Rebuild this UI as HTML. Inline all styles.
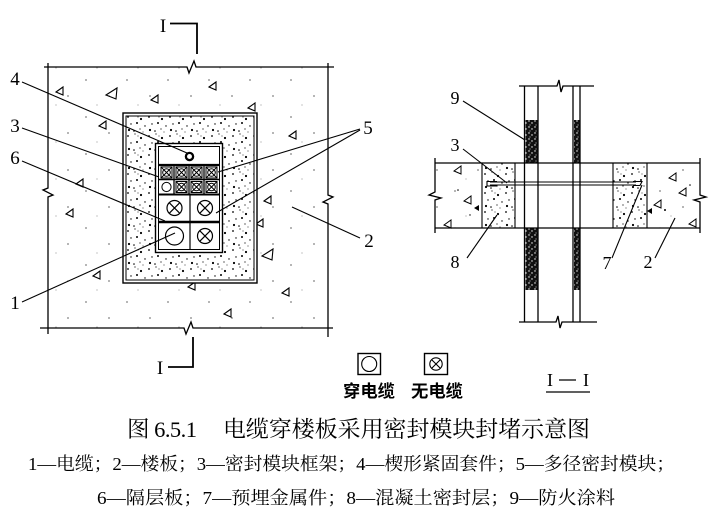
<!DOCTYPE html>
<html><head><meta charset="utf-8">
<style>html,body{margin:0;padding:0;background:#fff}svg{display:block}</style>
</head>
<body>
<svg width="717" height="521" viewBox="0 0 717 521" xmlns="http://www.w3.org/2000/svg">
<defs>
<pattern id="sp" width="41" height="37" patternUnits="userSpaceOnUse">
<circle cx="4" cy="6" r="0.6"/><circle cx="27" cy="22" r="0.6"/><circle cx="15" cy="31" r="0.4"/>
</pattern>
<pattern id="dn" width="21" height="19" patternUnits="userSpaceOnUse">
<circle cx="2" cy="3" r="0.9"/><circle cx="9" cy="1" r="0.6"/><circle cx="15" cy="5" r="1.1"/><circle cx="19" cy="12" r="0.7"/><circle cx="5" cy="10" r="0.7"/><circle cx="11" cy="9" r="1.0"/><circle cx="3" cy="16" r="1.1"/><circle cx="14" cy="15" r="0.6"/><circle cx="8" cy="17" r="0.8"/><circle cx="17" cy="18" r="0.5"/><circle cx="12" cy="3" r="0.5"/>
</pattern>
<pattern id="ct" width="6" height="6" patternUnits="userSpaceOnUse">
<rect width="6" height="6" fill="#111"/><circle cx="1" cy="1" r="0.7" fill="#fff"/><circle cx="4" cy="3" r="0.7" fill="#fff"/><circle cx="2" cy="5" r="0.5" fill="#fff"/>
</pattern>
</defs>
<rect width="717" height="521" fill="#fff"/>

<!-- LEFT PLAN VIEW -->
<rect x="48" y="67" width="280" height="261" fill="url(#sp)"/>
<g fill="none" stroke="#000" stroke-width="1.3">
<polyline points="44,67 187,67 189,73 194,61 196,67 334,67"/>
<polyline points="40,328 184,328 186,334 191,322 193,328 333,328"/>
<polyline points="48,63 48,188 43,190 53,195 48,197 48,334"/>
<polyline points="328,63 328,195 333,197 323,202 328,204 328,337"/>
<polyline points="170,23.5 197,23.5 197,54" stroke-width="1.8"/>
<polyline points="168,367 193,367 193,337" stroke-width="1.8"/>
</g>
<g fill="none" stroke="#000" stroke-width="1.1">
<polygon points="56,92 63,87 63,95"/>
<polygon points="106,95 117,88 116,99"/>
<polygon points="151,100 158,95 158,103"/>
<polygon points="209,87 216,82 216,90"/>
<polygon points="248,108 255,103 255,111"/>
<polygon points="99,126 106,121 106,129"/>
<polygon points="289,136 296,131 296,139"/>
<polygon points="76,184 83,179 83,187"/>
<polygon points="264,201 271,196 271,204"/>
<polygon points="66,214 73,209 73,217"/>
<polygon points="256,224 263,219 263,227"/>
<polygon points="262,256 273,249 272,260"/>
<polygon points="93,276 100,271 100,279"/>
<polygon points="188,287 195,282 195,290"/>
<polygon points="282,293 289,288 289,296"/>
<polygon points="224,314 231,309 231,317"/>
</g>
<rect x="123" y="113" width="134" height="170" fill="#fff" stroke="#000" stroke-width="1.4"/>
<rect x="126" y="116" width="128" height="164" fill="url(#dn)" stroke="#000" stroke-width="1"/>
<rect x="155.5" y="143.5" width="67" height="109" fill="#fff" stroke="#000" stroke-width="1.4"/>
<rect x="158.5" y="146.5" width="61" height="103" fill="none" stroke="#000" stroke-width="1"/>
<circle cx="189.5" cy="156.5" r="3.6" fill="#fff" stroke="#000" stroke-width="2.3"/>
<g stroke="#000" fill="none">
<line x1="158.5" y1="165" x2="219.5" y2="165" stroke-width="2.2"/>
<line x1="158.5" y1="179.5" x2="219.5" y2="179.5" stroke-width="1.6"/>
<line x1="158.5" y1="194.5" x2="219.5" y2="194.5" stroke-width="2"/>
<line x1="174" y1="165" x2="174" y2="194.5" stroke-width="1.3"/>
<line x1="189" y1="165" x2="189" y2="194.5" stroke-width="1.3"/>
<line x1="204" y1="165" x2="204" y2="194.5" stroke-width="1.3"/>
<line x1="190" y1="194.5" x2="190" y2="249.5" stroke-width="1.2"/>
<line x1="158.5" y1="222" x2="219.5" y2="222" stroke-width="2.6"/>
</g>
<g stroke="#000" fill="none" stroke-width="1">
<rect x="161" y="167" width="11" height="11"/><path d="M161,167L172,178M172,167L161,178"/><circle cx="166.5" cy="172.5" r="3.8"/>
<rect x="176" y="167" width="11" height="11"/><path d="M176,167L187,178M187,167L176,178"/><circle cx="181.5" cy="172.5" r="3.8"/>
<rect x="191" y="167" width="11" height="11"/><path d="M191,167L202,178M202,167L191,178"/><circle cx="196.5" cy="172.5" r="3.8"/>
<rect x="206" y="167" width="11" height="11"/><path d="M206,167L217,178M217,167L206,178"/><circle cx="211.5" cy="172.5" r="3.8"/>
<circle cx="166.5" cy="187" r="4.6"/>
<rect x="176" y="181.5" width="11" height="11"/><path d="M176,181.5L187,192.5M187,181.5L176,192.5"/><circle cx="181.5" cy="187" r="3.8"/>
<rect x="191" y="181.5" width="11" height="11"/><path d="M191,181.5L202,192.5M202,181.5L191,192.5"/><circle cx="196.5" cy="187" r="3.8"/>
<rect x="206" y="181.5" width="11" height="11"/><path d="M206,181.5L217,192.5M217,181.5L206,192.5"/><circle cx="211.5" cy="187" r="3.8"/>
<circle cx="174.5" cy="208" r="7.5" stroke-width="1.2"/><path d="M169.2,202.7L179.8,213.3M179.8,202.7L169.2,213.3" stroke-width="1.2"/>
<circle cx="205" cy="208" r="7.5" stroke-width="1.2"/><path d="M199.7,202.7L210.3,213.3M210.3,202.7L199.7,213.3" stroke-width="1.2"/>
<circle cx="174.5" cy="236" r="9" stroke-width="1.2"/>
<circle cx="205" cy="236" r="7.5" stroke-width="1.2"/><path d="M199.7,230.7L210.3,241.3M210.3,230.7L199.7,241.3" stroke-width="1.2"/>
</g>
<g stroke="#000" stroke-width="1.1">
<line x1="22" y1="82" x2="187" y2="153"/>
<line x1="22" y1="128" x2="159" y2="177"/>
<line x1="22" y1="161" x2="165" y2="221"/>
<line x1="22" y1="302" x2="175" y2="233"/>
<line x1="360" y1="129" x2="218" y2="172"/>
<line x1="360" y1="130" x2="216" y2="213"/>
<line x1="360" y1="238" x2="292" y2="207"/>
</g>
<g font-family="Liberation Serif, serif" font-size="19" text-anchor="middle" fill="#000">
<text x="15" y="85">4</text>
<text x="15" y="132">3</text>
<text x="15" y="164">6</text>
<text x="15" y="309">1</text>
<text x="368" y="134">5</text>
<text x="369" y="247">2</text>
<text x="163" y="32">I</text>
<text x="160" y="374">I</text>
</g>

<!-- RIGHT SECTION VIEW -->
<rect x="435" y="163" width="47" height="65" fill="url(#sp)"/>
<rect x="647" y="163" width="53" height="65" fill="url(#sp)"/>
<rect x="482" y="163" width="33" height="65" fill="url(#dn)"/>
<rect x="613" y="163" width="34" height="65" fill="url(#dn)"/>
<rect x="525.5" y="120" width="12" height="43" fill="url(#ct)"/>
<rect x="525.5" y="228" width="12" height="62" fill="url(#ct)"/>
<rect x="574" y="120" width="5.5" height="43" fill="url(#ct)"/>
<rect x="574" y="228" width="5.5" height="62" fill="url(#ct)"/>
<g stroke="#000" fill="none" stroke-width="1.3">
<line x1="435" y1="163" x2="700" y2="163"/>
<line x1="435" y1="228" x2="700" y2="228"/>
<line x1="482" y1="163" x2="482" y2="228" stroke-width="1.1"/>
<line x1="515" y1="163" x2="515" y2="228" stroke-width="1.1"/>
<line x1="613" y1="163" x2="613" y2="228" stroke-width="1.1"/>
<line x1="647" y1="163" x2="647" y2="228" stroke-width="1.1"/>
<line x1="524.5" y1="86" x2="524.5" y2="322"/>
<line x1="538" y1="86" x2="538" y2="322"/>
<line x1="573" y1="86" x2="573" y2="322"/>
<line x1="580" y1="86" x2="580" y2="322"/>
<polyline points="519,86 557,86 559,80 561,92 563,86 594,86"/>
<polyline points="519,322 556,322 558,316 560,328 562,322 597,322"/>
<polyline points="435,158 435,192 429,195 441,198 435,200 435,233"/>
<polyline points="700,158 700,195 706,197 694,200 700,202 700,233"/>
<line x1="490" y1="182" x2="636" y2="182" stroke-width="1"/>
<line x1="490" y1="185" x2="636" y2="185" stroke-width="1"/>
<path d="M497,181.5 L487,181.5 L487,186 L497,186" stroke-width="1.1"/>
<path d="M633,181.5 L642,181.5 L640,185.5 L633,185.5" stroke-width="1.1"/>
</g>
<g fill="none" stroke="#000" stroke-width="1">
<polygon points="454,171 461,166 461,174"/>
<polygon points="464,201 471,196 471,204"/>
<polygon points="444,225 451,220 451,228"/>
<polygon points="669,178 676,173 676,181"/>
<polygon points="679,193 686,188 686,196"/>
<polygon points="654,205 661,200 661,208"/>
<polygon points="689,224 696,219 696,227"/>
</g>
<g fill="#000">
<polygon points="474,208 479,205 479,211"/>
<polygon points="647,211 652,208 652,214"/>
<circle cx="665" cy="210" r="1"/><circle cx="690" cy="185" r="0.8"/><circle cx="458" cy="190" r="0.8"/><circle cx="470" cy="215" r="0.7"/>
</g>
<g stroke="#000" stroke-width="1.1">
<line x1="463" y1="101" x2="525" y2="140"/>
<line x1="463" y1="149" x2="507" y2="183"/>
<line x1="467" y1="258" x2="497" y2="215"/>
<line x1="612" y1="258" x2="642" y2="185"/>
<line x1="655" y1="258" x2="675" y2="218"/>
</g>
<g font-family="Liberation Serif, serif" font-size="18" text-anchor="middle" fill="#000">
<text x="455" y="104">9</text>
<text x="455" y="151">3</text>
<text x="455" y="268">8</text>
<text x="607" y="269">7</text>
<text x="648" y="268">2</text>
</g>

<!-- LEGEND -->
<rect x="358" y="353.5" width="22.5" height="21" fill="none" stroke="#000" stroke-width="1.4"/>
<circle cx="369.2" cy="364" r="7.5" fill="none" stroke="#000" stroke-width="1.1"/>
<rect x="424.5" y="353.5" width="23" height="21" fill="none" stroke="#000" stroke-width="1.4"/>
<circle cx="436" cy="364" r="6.2" fill="none" stroke="#000" stroke-width="1.1"/>
<path d="M431.6,359.6L440.4,368.4M440.4,359.6L431.6,368.4" stroke="#000" stroke-width="1.1"/>
<g font-family="Liberation Sans, Noto Sans CJK SC, sans-serif" font-size="17" font-weight="bold" fill="#000">
<text x="343" y="397" textLength="52" lengthAdjust="spacingAndGlyphs">穿电缆</text>
<text x="411" y="397" textLength="52" lengthAdjust="spacingAndGlyphs">无电缆</text>
</g>
<g font-family="Liberation Serif, serif" font-size="18" fill="#000">
<text x="547" y="386">I</text>
<text x="583" y="386">I</text>
</g>
<line x1="559" y1="380" x2="576" y2="380" stroke="#000" stroke-width="1.2"/>
<line x1="546" y1="392" x2="590" y2="392" stroke="#000" stroke-width="1.3"/>

<!-- CAPTION -->
<g font-family="Liberation Serif, Noto Serif CJK SC, serif" fill="#000">
<text x="127" y="437" font-size="22.5" textLength="70" lengthAdjust="spacing">图 6.5.1</text>
<text x="223" y="437" font-size="22.5" textLength="367" lengthAdjust="spacingAndGlyphs">电缆穿楼板采用密封模块封堵示意图</text>
<text x="28" y="470" font-size="18" textLength="647" lengthAdjust="spacingAndGlyphs">1—电缆；2—楼板；3—密封模块框架；4—楔形紧固套件；5—多径密封模块；</text>
<text x="97" y="504" font-size="18" textLength="518" lengthAdjust="spacingAndGlyphs">6—隔层板；7—预埋金属件；8—混凝土密封层；9—防火涂料</text>
</g>
</svg>
</body></html>
